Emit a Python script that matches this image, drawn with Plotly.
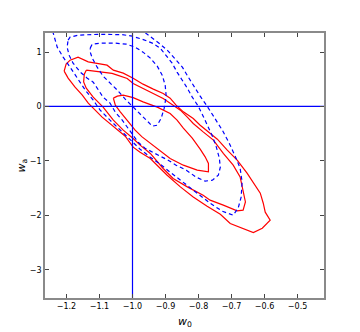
import plotly.graph_objects as go

# ---- data ----
# fiducial model
W0_FID = -1.0
WA_FID = 0.0

# red (solid) contours: outer, middle, inner  -- closed curves
red_outer_w0 = [-1.207, -1.201, -1.189, -1.165, -1.134, -1.098, -1.077, -1.058, -1.028, -0.998,
                -0.968, -0.937, -0.907, -0.886, -0.868, -0.846, -0.816, -0.795, -0.771, -0.743,
                -0.713, -0.683, -0.653, -0.634, -0.613, -0.604, -0.598, -0.583, -0.607, -0.634,
                -0.665, -0.704, -0.734, -0.774, -0.816, -0.855, -0.895, -0.946, -0.977, -0.998,
                -1.022, -1.043, -1.068, -1.092, -1.113, -1.134, -1.152, -1.174, -1.195]
red_outer_wa = [0.649, 0.778, 0.851, 0.906, 0.820, 0.790, 0.759, 0.667, 0.612, 0.520,
                0.410, 0.318, 0.239, 0.153, 0.024, -0.099, -0.221, -0.344, -0.467, -0.601,
                -0.803, -0.987, -1.226, -1.410, -1.594, -1.778, -1.943, -2.090, -2.237, -2.316,
                -2.243, -2.151, -1.980, -1.833, -1.662, -1.478, -1.263, -0.956, -0.840, -0.748,
                -0.546, -0.436, -0.307, -0.197, -0.068, 0.061, 0.208, 0.355, 0.520]

red_mid_w0 = [-1.140, -1.107, -1.062, -1.046, -1.016, -0.998, -0.968, -0.937, -0.907, -0.877,
              -0.855, -0.834, -0.816, -0.786, -0.755, -0.725, -0.695, -0.674, -0.665, -0.658,
              -0.665, -0.683, -0.725, -0.765, -0.786, -0.834, -0.877, -0.907, -0.946, -0.977,
              -0.998, -1.028, -1.058, -1.089, -1.119, -1.140, -1.148, -1.146]
red_mid_wa = [0.667, 0.636, 0.607, 0.575, 0.515, 0.423, 0.331, 0.239, 0.147, 0.024,
              -0.068, -0.197, -0.312, -0.467, -0.619, -0.864, -1.079, -1.294, -1.539, -1.754,
              -1.906, -1.919, -1.814, -1.722, -1.630, -1.478, -1.323, -1.140, -0.864, -0.711,
              -0.588, -0.436, -0.252, -0.013, 0.171, 0.336, 0.452, 0.594]

red_in_w0 = [-1.058, -1.046, -1.028, -0.998, -0.968, -0.925, -0.886, -0.865, -0.846, -0.819,
             -0.795, -0.780, -0.770, -0.770, -0.804, -0.846, -0.886, -0.925, -0.946, -0.971,
             -0.992, -1.022, -1.037, -1.052]
red_in_wa = [0.153, 0.189, 0.208, 0.162, 0.085, -0.013, -0.129, -0.252, -0.399, -0.583,
             -0.785, -0.926, -1.048, -1.202, -1.171, -1.079, -0.956, -0.772, -0.675, -0.559,
             -0.436, -0.221, -0.099, 0.024]

# blue (dashed) contours: outer (runs off the top), middle, inner
blue_outer_w0 = [-1.243, -1.240, -1.228, -1.210, -1.189, -1.168, -1.143, -1.119, -1.098, -1.068,
                 -1.037, -1.007, -0.977, -0.946, -0.916, -0.886, -0.855, -0.810, -0.765, -0.728,
                 -0.695, -0.680, -0.671, -0.668, -0.674, -0.689, -0.707, -0.728, -0.752, -0.774,
                 -0.795, -0.813, -0.831, -0.849, -0.871, -0.892, -0.916, -0.940, -0.962, -0.968]
blue_outer_wa = [1.384, 1.347, 1.090, 0.906, 0.722, 0.539, 0.300, 0.116, -0.068, -0.252,
                 -0.436, -0.619, -0.785, -0.932, -1.061, -1.208, -1.355, -1.557, -1.778, -1.925,
                 -1.998, -1.869, -1.667, -1.392, -1.134, -0.914, -0.675, -0.436, -0.197, 0.006,
                 0.189, 0.355, 0.539, 0.722, 0.869, 1.017, 1.145, 1.256, 1.347, 1.384]

blue_mid_w0 = [-1.195, -1.189, -1.165, -1.104, -1.031, -1.001, -0.971, -0.940, -0.916, -0.898,
               -0.880, -0.865, -0.849, -0.834, -0.819, -0.801, -0.786, -0.771, -0.758, -0.746,
               -0.737, -0.734, -0.740, -0.758, -0.780, -0.807, -0.837, -0.868, -0.892, -0.916,
               -0.940, -0.962, -0.983, -0.998, -1.016, -1.031, -1.052, -1.068, -1.089, -1.104,
               -1.119, -1.137, -1.158, -1.180, -1.192, -1.198]
blue_mid_wa = [1.219, 1.274, 1.311, 1.325, 1.320, 1.292, 1.237, 1.164, 1.072, 0.925,
               0.796, 0.631, 0.483, 0.336, 0.171, 0.006, -0.178, -0.362, -0.546, -0.748,
               -0.950, -1.116, -1.263, -1.355, -1.373, -1.300, -1.171, -1.079, -0.987, -0.914,
               -0.840, -0.767, -0.656, -0.528, -0.381, -0.252, -0.105, 0.061, 0.171, 0.300,
               0.447, 0.520, 0.631, 0.796, 0.943, 1.090]

blue_in_w0 = [-1.128, -1.122, -1.098, -1.052, -1.019, -0.992, -0.968, -0.946, -0.925, -0.910,
              -0.901, -0.898, -0.904, -0.913, -0.925, -0.940, -0.955, -0.977, -0.998, -1.022,
              -1.046, -1.068, -1.089, -1.107, -1.122, -1.128]
blue_in_wa = [1.072, 1.145, 1.164, 1.164, 1.145, 1.090, 0.998, 0.888, 0.741, 0.575,
              0.392, 0.189, -0.031, -0.215, -0.344, -0.362, -0.270, -0.142, -0.013, 0.134,
              0.300, 0.428, 0.557, 0.722, 0.888, 0.998]

x_ticks = [-1.2, -1.1, -1.0, -0.9, -0.8, -0.7, -0.6, -0.5]
x_ticktext = ["\u22121.2", "\u22121.1", "\u22121.0", "\u22120.9", "\u22120.8", "\u22120.7", "\u22120.6", "\u22120.5"]
y_ticks = [-3, -2, -1, 0, 1]
y_ticktext = ["\u22123", "\u22122", "\u22121", "0", "1"]
x_range = [-1.265, -0.42]
y_range = [-3.52, 1.35]

# ---- figure ----
fig = go.Figure()

def closed(a):
    return list(a) + [a[0]]

for xs, ys in [(red_outer_w0, red_outer_wa), (red_mid_w0, red_mid_wa), (red_in_w0, red_in_wa)]:
    fig.add_trace(go.Scatter(x=closed(xs), y=closed(ys), mode="lines",
                             line=dict(color="#ff0000", width=1.2), hoverinfo="skip"))

fig.add_trace(go.Scatter(x=blue_outer_w0, y=blue_outer_wa, mode="lines",
                         line=dict(color="#0000ff", width=1.2, dash="4px,3px"), hoverinfo="skip"))
for xs, ys in [(blue_mid_w0, blue_mid_wa), (blue_in_w0, blue_in_wa)]:
    fig.add_trace(go.Scatter(x=closed(xs), y=closed(ys), mode="lines",
                             line=dict(color="#0000ff", width=1.2, dash="4px,3px"), hoverinfo="skip"))

# fiducial cross-hair
fig.add_trace(go.Scatter(x=[W0_FID, W0_FID], y=y_range, mode="lines",
                         line=dict(color="#0000ff", width=1.2), hoverinfo="skip"))
fig.add_trace(go.Scatter(x=x_range, y=[WA_FID, WA_FID], mode="lines",
                         line=dict(color="#0000ff", width=1.2), hoverinfo="skip"))

axis_common = dict(showgrid=False, zeroline=False, showline=True, linecolor="#8a8a8a",
                   linewidth=1.6, mirror="allticks", ticks="inside", ticklen=4,
                   tickcolor="#444", tickwidth=1, automargin=False,
                   tickfont=dict(family="DejaVu Sans", size=8, color="black"))

title_font = dict(family="DejaVu Sans", size=11, color="black")

fig.update_layout(
    width=352, height=324,
    margin=dict(l=37, r=36, t=25, b=34),
    plot_bgcolor="white", paper_bgcolor="white",
    showlegend=False,
    xaxis=dict(range=x_range, tickvals=x_ticks, ticktext=x_ticktext, **axis_common),
    yaxis=dict(range=y_range, tickvals=y_ticks, ticktext=y_ticktext, **axis_common),
    annotations=[
        dict(text="<i>w</i><sub>0</sub>", x=0.5, y=0, xref="paper", yref="paper",
             xanchor="center", yanchor="middle", yshift=-24, showarrow=False, font=title_font),
        dict(text="<i>w</i><sub>a</sub>", x=0, y=0.5, xref="paper", yref="paper",
             xanchor="center", yanchor="middle", xshift=-24, textangle=-90,
             showarrow=False, font=title_font),
    ],
)

fig.write_html("out.html")
